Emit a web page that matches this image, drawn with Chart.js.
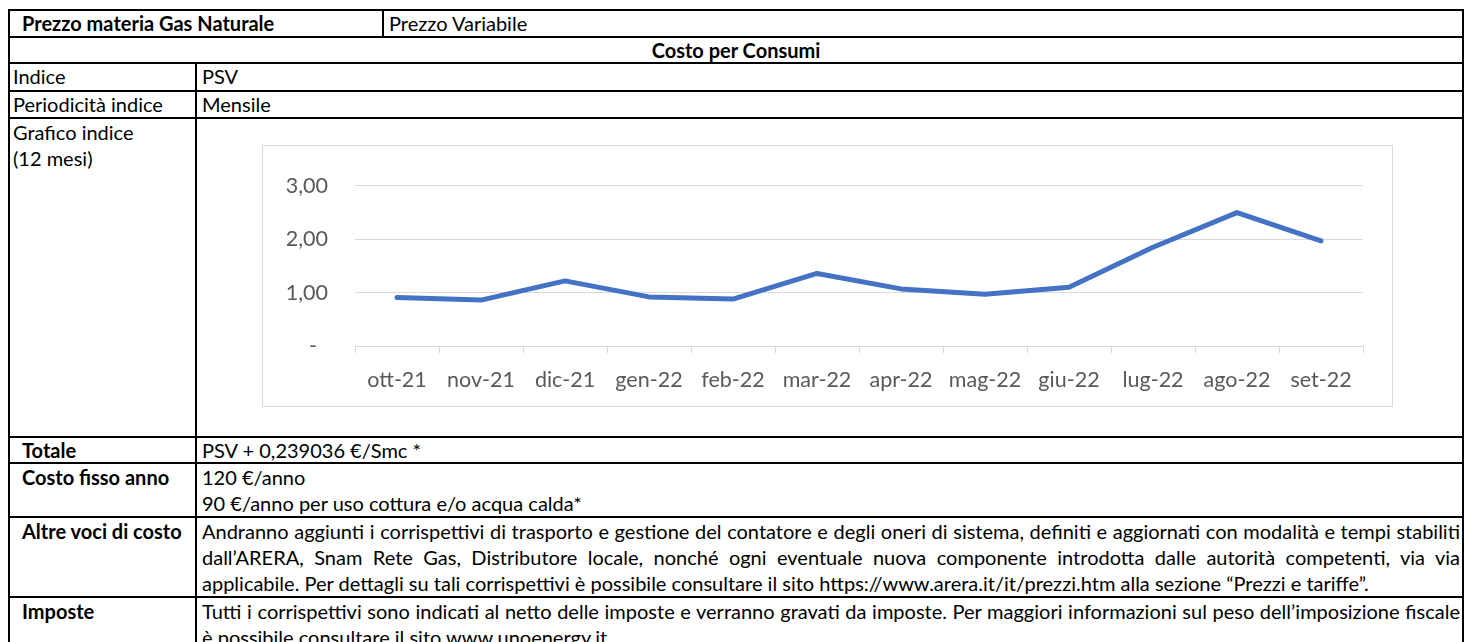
<!DOCTYPE html>
<html>
<head>
<meta charset="utf-8">
<script src="https://cdn.jsdelivr.net/npm/chart.js@4.4.0/dist/chart.umd.min.js"></script>
<style>
  body { margin: 0; background: #fff; }
  #page { position: relative; width: 1468px; height: 642px; overflow: hidden; font-family: Lato, "Open Sans", sans-serif; font-size: 20px; color: #000; }
  table { position: absolute; left: 8px; top: 9px; width: 1454px; border-collapse: collapse; table-layout: fixed; }
  td { border: 2px solid #000; padding: 0; line-height: 24px; vertical-align: top; white-space: nowrap; }
  td div, td.ml { line-height: 26px; }
  .lab { padding-left: 3px; }
  .blab { padding-left: 12px; font-weight: bold; }
  .cnt { padding-left: 5px; padding-right: 2px; }
  .j { text-align: justify; text-align-last: justify; }
  #box { position: absolute; left: 262px; top: 145px; width: 1131px; height: 262px; border: 1px solid #d9d9d9; box-sizing: border-box; background: #fff; }
  #box canvas { position: absolute; left: 0; top: 0; }
</style>
</head>
<body>
<div id="page">
<table>
  <colgroup><col style="width:187px"><col style="width:187px"><col style="width:1080px"></colgroup>
  <tr style="height:27px"><td colspan="2" class="blab">Prezzo materia Gas Naturale</td><td class="cnt">Prezzo Variabile</td></tr>
  <tr style="height:26px"><td colspan="3" style="text-align:center;font-weight:bold">Costo per Consumi</td></tr>
  <tr style="height:28px"><td class="lab">Indice</td><td colspan="2" class="cnt">PSV</td></tr>
  <tr style="height:27px"><td class="lab">Periodicità indice</td><td colspan="2" class="cnt">Mensile</td></tr>
  <tr style="height:319px"><td class="lab"><div>Grafico indice</div><div>(12 mesi)</div></td><td colspan="2" class="cnt"></td></tr>
  <tr style="height:26px"><td class="blab">Totale</td><td colspan="2" class="cnt">PSV + 0,239036 €/Smc *</td></tr>
  <tr style="height:54px"><td class="blab ml">Costo fisso anno</td><td colspan="2" class="cnt"><div>120 €/anno</div><div>90 €/anno per uso cottura e/o acqua calda*</div></td></tr>
  <tr style="height:80px"><td class="blab ml">Altre voci di costo</td><td colspan="2" class="cnt">
    <div class="j">Andranno aggiunti i corrispettivi di trasporto e gestione del contatore e degli oneri di sistema, definiti e aggiornati con modalità e tempi stabiliti</div>
    <div class="j">dall’ARERA, Snam Rete Gas, Distributore locale, nonché ogni eventuale nuova componente introdotta dalle autorità competenti, via via</div>
    <div>applicabile. Per dettagli su tali corrispettivi è possibile consultare il sito https://www.arera.it/it/prezzi.htm alla sezione “Prezzi e tariffe”.</div>
  </td></tr>
  <tr style="height:77px"><td class="blab ml">Imposte</td><td colspan="2" class="cnt">
    <div class="j">Tutti i corrispettivi sono indicati al netto delle imposte e verranno gravati da imposte. Per maggiori informazioni sul peso dell’imposizione fiscale</div>
    <div>è possibile consultare il sito www.unoenergy.it</div>
  </td></tr>
</table>
<div id="box"><canvas id="psv-graph" width="1129" height="260"></canvas></div>
</div>
<script>
// PSV monthly values (€/Smc)
var months = ['ott-21', 'nov-21', 'dic-21', 'gen-22', 'feb-22', 'mar-22', 'apr-22', 'mag-22', 'giu-22', 'lug-22', 'ago-22', 'set-22'];
var psvValues = [0.91, 0.86, 1.22, 0.92, 0.88, 1.36, 1.07, 0.97, 1.10, 1.85, 2.50, 1.97];
var yTickLabels = ['-  ', '1,00', '2,00', '3,00'];

var psvGraph = new Chart(document.getElementById('psv-graph').getContext('2d'), {
  type: 'line',
  data: {
    labels: months,
    datasets: [{
      label: 'PSV',
      data: psvValues,
      borderColor: '#4472C4',
      borderWidth: 5,
      borderCapStyle: 'round',
      borderJoinStyle: 'round',
      pointRadius: 0,
      tension: 0,
      fill: false
    }]
  },
  options: {
    responsive: false,
    animation: false,
    layout: { padding: { top: 18, right: 29, left: 0, bottom: 0 } },
    plugins: { legend: { display: false }, tooltip: { enabled: false } },
    scales: {
      x: {
        offset: true,
        grid: { drawOnChartArea: false, drawTicks: true, tickLength: 7, offset: true, color: '#d9d9d9' },
        border: { display: true, color: '#d9d9d9' },
        ticks: { color: '#595959', font: { family: 'Lato', size: 21.5 }, padding: 14, maxRotation: 0, autoSkip: false },
        afterFit: function(scale) { scale.height = 60; }
      },
      y: {
        min: 0,
        max: 3,
        grid: { color: '#d9d9d9', drawTicks: false },
        border: { display: false },
        ticks: {
          stepSize: 1,
          color: '#595959',
          font: { family: 'Lato', size: 21.5 },
          padding: 27,
          callback: function(value, index) { return yTickLabels[index]; }
        },
        afterFit: function(scale) { scale.width = 92; }
      }
    }
  }
});
</script>
</body>
</html>
